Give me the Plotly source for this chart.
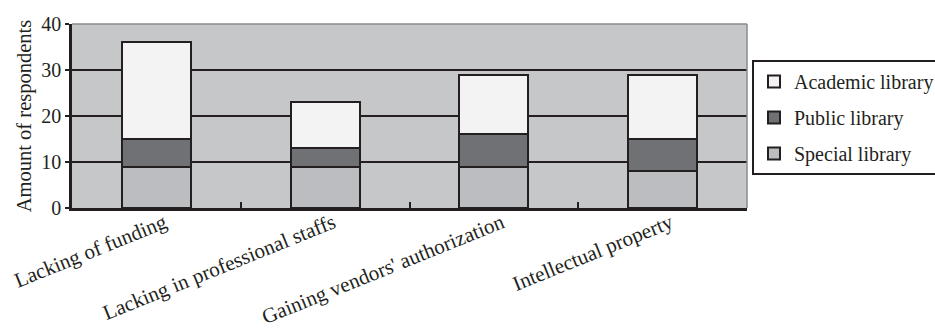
import plotly.graph_objects as go

# Barriers reported by respondents, split by library type
categories = [
    "Lacking of funding",
    "Lacking in professional staffs",
    "Gaining vendors' authorization",
    "Intellectual property",
]
special_library = [9, 9, 9, 8]
public_library = [6, 4, 7, 7]
academic_library = [21, 10, 13, 14]

y_ticks = [0, 10, 20, 30, 40]

INK = "#231f20"
FONT = "Liberation Serif"

series = [
    ("Academic library", academic_library, "#f3f3f3"),
    ("Public library", public_library, "#707174"),
    ("Special library", special_library, "#bcbdc0"),
]

fig = go.Figure()
# stack from the bottom: special, public, academic
for name, values, color in reversed(series):
    fig.add_trace(go.Bar(
        x=categories,
        y=values,
        name=name,
        legendgroup=name,
        legendrank=[s[0] for s in series].index(name) + 1,
        marker=dict(color=color, line=dict(color=INK, width=2)),
    ))

fig.update_layout(
    width=935,
    height=328,
    barmode="stack",
    bargap=0.59,
    paper_bgcolor="white",
    plot_bgcolor="#c6c7c9",
    margin=dict(l=72, r=188, t=24, b=120),
    font=dict(family=FONT, size=20, color=INK),
    showlegend=True,
    legend=dict(
        xref="container", yref="container",
        x=752 / 935, y=1 - 60 / 328,
        xanchor="left", yanchor="top",
        traceorder="grouped",
        tracegroupgap=7,
        bordercolor=INK, borderwidth=2,
        bgcolor="white",
        font=dict(family=FONT, size=20, color=INK),
        itemwidth=30,
    ),
    shapes=[
        # light frame along the top and right of the plotting area
        dict(type="line", xref="paper", yref="paper", x0=0, x1=1, y0=1, y1=1,
             line=dict(color="#8a8b8d", width=1.5), layer="above"),
        dict(type="line", xref="paper", yref="paper", x0=1, x1=1, y0=0, y1=1,
             line=dict(color="#8a8b8d", width=1.5), layer="above"),
    ],
)

fig.update_xaxes(
    type="category",
    automargin=False,
    showgrid=False,
    showline=True, linecolor=INK, linewidth=2.5,
    ticks="inside", tickson="boundaries", ticklen=6, tickwidth=2, tickcolor=INK,
    tickangle=-22,
    ticklabelshift=8,
    ticklabelstandoff=-8,
    tickfont=dict(family=FONT, size=21, color=INK),
)

fig.update_yaxes(
    range=[0, 40],
    automargin=False,
    tickvals=y_ticks,
    showgrid=True, gridcolor=INK, gridwidth=2,
    zeroline=False,
    showline=True, linecolor=INK, linewidth=2.5,
    ticks="outside", ticklen=4, tickwidth=2, tickcolor=INK,
    tickfont=dict(family=FONT, size=20, color=INK),
    title=dict(text="Amount of respondents", font=dict(family=FONT, size=20.5, color=INK),
               standoff=5),
)

fig.write_html("out.html")
